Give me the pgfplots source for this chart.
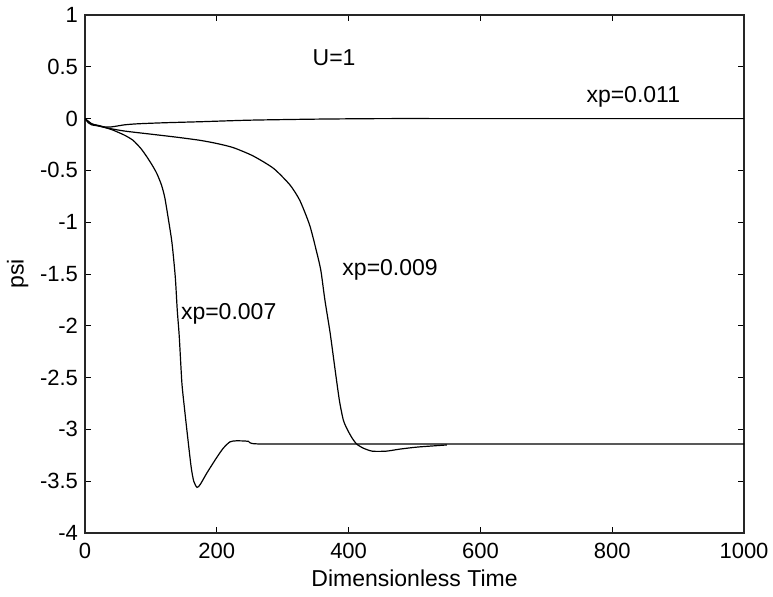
\documentclass[border=0pt]{standalone}
\usepackage{pgfplots}
\pgfplotsset{compat=1.18}
\usepackage{fontspec}
\setmainfont{Liberation Sans}
\begin{document}
\begin{tikzpicture}
\begin{axis}[
  width=329.5pt, height=259pt, scale only axis,
  xmin=0, xmax=1000, ymin=-4, ymax=1,
  xtick={0,200,...,1000},
  xticklabels={0,200,400,600,800,1000},
  ytick={-4,-3.5,...,1},
  yticklabels={-4,-3.5,-3,-2.5,-2,-1.5,-1,-0.5,0,0.5,1},
  tick align=inside, major tick length=3pt,
  tick style={line width=0.5pt, color=black},
  axis line style={line width=0.6pt, color=black!85},
  ticklabel style={font=\fontsize{11}{13}\selectfont},
  xticklabel style={yshift=-1.5pt},
  label style={font=\fontsize{11.5}{13}\selectfont},
  xlabel={Dimensionless Time},
  ylabel={psi},
  xlabel style={at={(axis description cs:0.5,0)}, anchor=center, yshift=-22.5pt},
  ylabel style={at={(axis description cs:-0.102,0.5)}, anchor=center},
  clip=true,
]
\addplot[black, line width=0.6pt, smooth, tension=0.4] coordinates {
(0,0) (5,-0.04) (10,-0.06) (20,-0.07) (30,-0.08) (40,-0.08) (60,-0.06) (80,-0.05) (120,-0.04) (175,-0.03) (250,-0.015) (350,-0.005) (450,0) (600,0) (1000,0)};
\addplot[black, line width=0.6pt, smooth, tension=0.4] coordinates {
(0,0) (10,-0.05) (20,-0.07) (33,-0.09) (60,-0.12) (100,-0.15) (140,-0.18) (175,-0.21) (200,-0.24) (225,-0.28) (255,-0.36) (286,-0.48) (311,-0.64) (326,-0.79) (341,-1.03) (352,-1.30) (358,-1.47) (364,-1.75) (372,-2.07) (379,-2.40) (386,-2.72) (392,-2.91) (398,-3.0) (405,-3.08) (412,-3.14) (422,-3.18) (436,-3.21) (457,-3.21) (478,-3.19) (505,-3.17) (549,-3.15)};
\addplot[black, line width=0.6pt, smooth, tension=0.4] coordinates {
(0,0) (10,-0.05) (23,-0.07) (42,-0.11) (60,-0.16) (73,-0.21) (85,-0.29) (94,-0.37) (102,-0.45) (109,-0.53) (116,-0.64) (121,-0.76) (126,-0.95) (132,-1.20) (137,-1.53) (140,-1.85) (143,-2.1) (147,-2.55) (151,-2.8) (155,-3.03) (161,-3.36) (165,-3.50) (170,-3.56) (175,-3.53) (185,-3.42) (200,-3.27) (210,-3.18) (220,-3.12) (230,-3.11) (248,-3.115) (262,-3.14) (400,-3.14) (1000,-3.14)};
\node[font=\fontsize{11.5}{13}\selectfont] at (axis cs:378,0.59) {U=1};
\node[font=\fontsize{11.5}{13}\selectfont] at (axis cs:832,0.21) {xp=0.011};
\node[font=\fontsize{11.5}{13}\selectfont] at (axis cs:463,-1.46) {xp=0.009};
\node[font=\fontsize{11.5}{13}\selectfont] at (axis cs:218,-1.88) {xp=0.007};
\coordinate (bl) at (rel axis cs:-0.129,-0.122);
\coordinate (tr) at (rel axis cs:1.044,1.029);
\end{axis}
\pgfresetboundingbox
\path[use as bounding box] (bl) rectangle (tr);
\end{tikzpicture}
\end{document}
